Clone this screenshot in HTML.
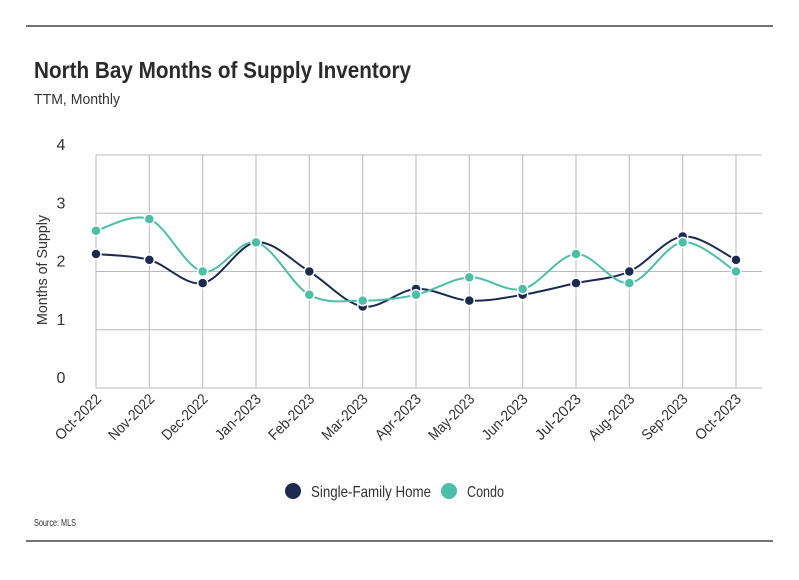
<!DOCTYPE html>
<html><head><meta charset="utf-8"><style>
body{margin:0;background:#fff;width:799px;height:575px;overflow:hidden;font-family:"Liberation Sans Narrow","Liberation Sans",sans-serif}
svg text{font-family:"Liberation Sans Narrow","Liberation Sans",sans-serif}
</style></head><body>
<svg width="799" height="575" xmlns="http://www.w3.org/2000/svg">
<line x1="26" x2="773" y1="26" y2="26" stroke="#222" stroke-width="1.2"/>
<text x="34" y="78" font-size="23" font-weight="bold" fill="#2b2b2b" textLength="377" lengthAdjust="spacingAndGlyphs">North Bay Months of Supply Inventory</text>
<text x="34" y="104" font-size="15" fill="#333" textLength="86" lengthAdjust="spacingAndGlyphs">TTM, Monthly</text>
<text transform="translate(47,270) rotate(-90)" text-anchor="middle" font-size="15" fill="#333" textLength="110" lengthAdjust="spacingAndGlyphs">Months of Supply</text>
<g id="grid"></g><g id="series"></g><g id="xlabels"></g>
<g>
<circle cx="293" cy="491" r="8" fill="#1c2951"/>
<text x="311" y="497" font-size="16" fill="#333" textLength="120" lengthAdjust="spacingAndGlyphs">Single-Family Home</text>
<circle cx="449" cy="491" r="8" fill="#4dbfa8"/>
<text x="467" y="497" font-size="16" fill="#333" textLength="37" lengthAdjust="spacingAndGlyphs">Condo</text>
</g>
<text x="34" y="526" font-size="10" fill="#333" textLength="42" lengthAdjust="spacingAndGlyphs">Source:  MLS</text>
<line x1="26" x2="773" y1="541" y2="541" stroke="#222" stroke-width="1.2"/>
</svg>
<script>
const categories=["Oct-2022","Nov-2022","Dec-2022","Jan-2023","Feb-2023","Mar-2023","Apr-2023","May-2023","Jun-2023","Jul-2023","Aug-2023","Sep-2023","Oct-2023"];
const sfhValues=[2.3,2.2,1.8,2.5,2.0,1.4,1.7,1.5,1.6,1.8,2.0,2.6,2.2];
const condoValues=[2.7,2.9,2.0,2.5,1.6,1.5,1.6,1.9,1.7,2.3,1.8,2.5,2.0];
const yTicks=[0,1,2,3,4];
const NS="http://www.w3.org/2000/svg";
const x0=96,x1=736,yb=388,yt=155,ymax=4;
function xs(i){return x0+(x1-x0)*i/(categories.length-1);}
function ys(v){return yb-(yb-yt)*v/ymax;}
function mk(t,a,p){const e=document.createElementNS(NS,t);for(const k in a)e.setAttribute(k,a[k]);p.appendChild(e);return e;}
const grid=document.getElementById('grid'),ser=document.getElementById('series'),xl=document.getElementById('xlabels');
yTicks.forEach(v=>{
 const l=mk('line',{x1:x0,x2:762,y1:ys(v),y2:ys(v),stroke:'#bbb','stroke-width':1},grid);
 
 
 const t=mk('text',{x:61,y:ys(v)-5,'text-anchor':'middle','font-size':16,fill:'#333'},grid);t.textContent=v;
 
 
});
categories.forEach((c,i)=>{
 const l=mk('line',{x1:xs(i),x2:xs(i),y1:yt,y2:yb,stroke:'#bbb','stroke-width':1},grid);
 
 
 const t=mk('text',{transform:`translate(${xs(i)+6},${yb+12}) rotate(-45)`,'text-anchor':'end','font-size':15,fill:'#333',textLength:58,lengthAdjust:'spacingAndGlyphs'},xl);t.textContent=c;
 
 
});
function path(vals){
 const p=vals.map((v,i)=>[xs(i),ys(v)]);let d=`M${p[0][0]},${p[0][1]}`;
 for(let i=0;i<p.length-1;i++){const a=p[Math.max(0,i-1)],b=p[i],c=p[i+1],e=p[Math.min(p.length-1,i+2)];
  const c1=[b[0]+(c[0]-a[0])/6,b[1]+(c[1]-a[1])/6],c2=[c[0]-(e[0]-b[0])/6,c[1]-(e[1]-b[1])/6];
  d+=` C${c1[0]},${c1[1]} ${c2[0]},${c2[1]} ${c[0]},${c[1]}`;}
 return d;}
[[sfhValues,'#1c2951','sfh'],[condoValues,'#4dbfa8','condo']].forEach(([vals,col,n])=>{
 const pa=mk('path',{d:path(vals),fill:'none',stroke:col,'stroke-width':2},ser);
 
 
 vals.forEach((v,i)=>{const c=mk('circle',{cx:xs(i),cy:ys(v),r:5,fill:col,stroke:'#fff','stroke-width':1.5},ser);
  
  });
});
</script>
</body></html>
